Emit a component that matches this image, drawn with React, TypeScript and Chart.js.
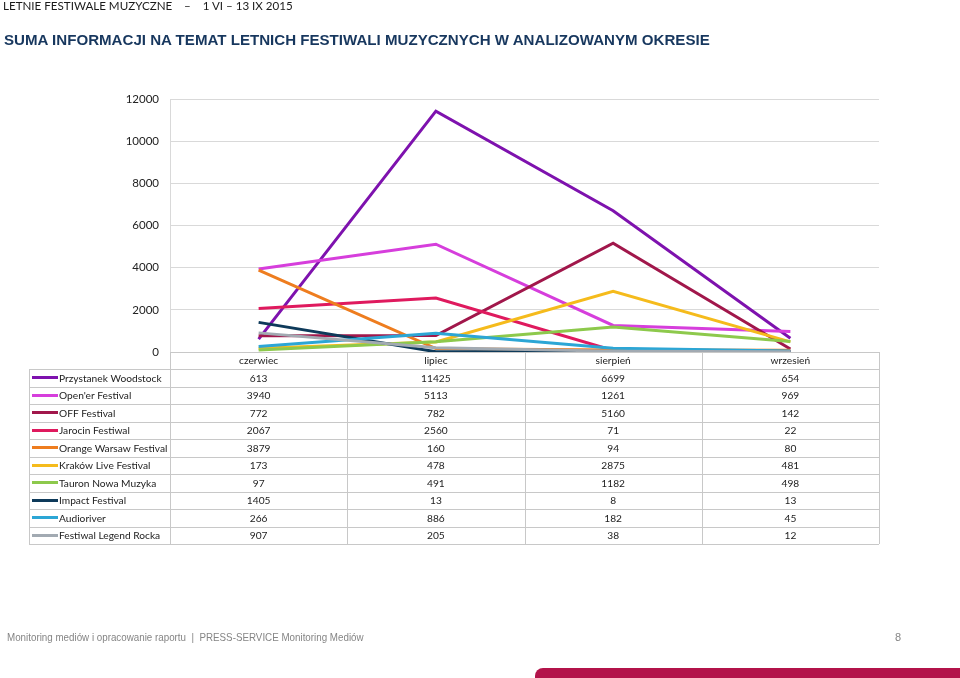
import React, { useEffect, useRef } from "react";
import { Chart, registerables } from "chart.js";

Chart.register(...registerables);

const categories = ["czerwiec", "lipiec", "sierpień", "wrzesień"];
const seriesNames = [
  "Przystanek Woodstock",
  "Open'er Festival",
  "OFF Festival",
  "Jarocin Festiwal",
  "Orange Warsaw Festival",
  "Kraków Live Festival",
  "Tauron Nowa Muzyka",
  "Impact Festival",
  "Audioriver",
  "Festiwal Legend Rocka",
];
const woodstock = [613, 11425, 6699, 654];
const opener = [3940, 5113, 1261, 969];
const offFestival = [772, 782, 5160, 142];
const jarocin = [2067, 2560, 71, 22];
const orangeWarsaw = [3879, 160, 94, 80];
const krakowLive = [173, 478, 2875, 481];
const tauron = [97, 491, 1182, 498];
const impact = [1405, 13, 8, 13];
const audioriver = [266, 886, 182, 45];
const legendRocka = [907, 205, 38, 12];
const seriesValues = [
  woodstock,
  opener,
  offFestival,
  jarocin,
  orangeWarsaw,
  krakowLive,
  tauron,
  impact,
  audioriver,
  legendRocka,
];
const seriesColors = [
  "#7E12AE",
  "#D63EDC",
  "#A1174B",
  "#DF1A5E",
  "#EE7D1F",
  "#F5BB1C",
  "#8DC94C",
  "#0E3A5A",
  "#2CA6D5",
  "#A2AAB2",
];
const yTicks = [0, 2000, 4000, 6000, 8000, 10000, 12000];

const TABLE_FONT = "10.2px Lato";
const GRID = "#C8C8C8";

const tablePlugin = {
  id: "dataTable",
  afterDraw(chart: any) {
    const ctx = chart.ctx as CanvasRenderingContext2D;
    const area = chart.chartArea;
    const n = categories.length;
    const colW = (area.right - area.left) / n;
    const headerTop = area.bottom;
    const headerH = 17;
    const rowsTop = headerTop + headerH;
    const rowH = 17.5;
    const tableLeft = 29;
    const bottom = rowsTop + rowH * seriesNames.length;
    const crisp = (v: number) => Math.round(v) + 0.5;

    ctx.save();
    ctx.strokeStyle = GRID;
    ctx.lineWidth = 1;
    ctx.beginPath();
    ctx.moveTo(area.left, crisp(headerTop));
    ctx.lineTo(area.right, crisp(headerTop));
    for (let r = 0; r <= seriesNames.length; r++) {
      const y = crisp(rowsTop + r * rowH);
      ctx.moveTo(tableLeft, y);
      ctx.lineTo(area.right, y);
    }
    for (let c = 0; c <= n; c++) {
      const x = crisp(area.left + c * colW);
      ctx.moveTo(x, headerTop);
      ctx.lineTo(x, bottom);
    }
    ctx.moveTo(crisp(tableLeft), rowsTop);
    ctx.lineTo(crisp(tableLeft), bottom);
    ctx.stroke();

    ctx.font = TABLE_FONT;
    ctx.fillStyle = "#222";
    ctx.textBaseline = "middle";
    ctx.textAlign = "center";
    const xs = chart.scales.x;
    categories.forEach((c, i) => {
      ctx.fillText(c, xs.getPixelForValue(i), headerTop + headerH / 2 + 0.5);
    });
    seriesNames.forEach((name, r) => {
      const cy = rowsTop + r * rowH + rowH / 2 + 0.5;
      ctx.strokeStyle = seriesColors[r];
      ctx.lineWidth = 3;
      ctx.beginPath();
      ctx.moveTo(32, Math.round(cy) - 0.5);
      ctx.lineTo(58, Math.round(cy) - 0.5);
      ctx.stroke();
      ctx.textAlign = "left";
      ctx.fillStyle = "#222";
      ctx.fillText(name, 59, cy);
      ctx.textAlign = "center";
      seriesValues[r].forEach((v, i) => {
        ctx.fillText(String(v), xs.getPixelForValue(i), cy);
      });
    });
    ctx.restore();
  },
};

export default function App() {
  const ref = useRef<HTMLCanvasElement>(null);
  useEffect(() => {
    if (!ref.current) return;
    const n = seriesNames.length;
    const chart = new Chart(ref.current, {
      type: "line",
      data: {
        labels: categories,
        datasets: seriesNames.map((name, i) => ({
          label: name,
          data: seriesValues[i],
          borderColor: seriesColors[i],
          backgroundColor: seriesColors[i],
          borderWidth: 3,
          pointRadius: 0,
          tension: 0,
          order: n - i,
        })),
      },
      options: {
        responsive: false,
        animation: false,
        events: [],
        layout: { padding: { left: 0, top: 99, right: 81, bottom: 326 } },
        plugins: { legend: { display: false }, tooltip: { enabled: false } },
        scales: {
          x: {
            type: "category",
            offset: true,
            display: false,
          },
          y: {
            min: 0,
            max: 12000,
            afterFit: (s: any) => {
              s.width = 170;
            },
            afterBuildTicks: (s: any) => {
              s.ticks = yTicks.map((v) => ({ value: v }));
            },
            ticks: {
              padding: 11,
              color: "#222",
              font: { family: "Lato", size: 11.5 },
              callback: (v: any) => String(v),
            },
            grid: { color: "#D9D9D9", drawTicks: false, lineWidth: 1 },
            border: { display: true, color: "#D9D9D9" },
          },
        },
      },
      plugins: [tablePlugin],
    });
    return () => chart.destroy();
  }, []);

  return (
    <div
      style={{
        position: "absolute",
        left: 0,
        top: 0,
        width: 960,
        height: 678,
        background: "#fff",
        overflow: "hidden",
      }}
    >
      <canvas
        ref={ref}
        width={960}
        height={678}
        style={{ position: "absolute", left: 0, top: 0 }}
      />
      <div
        style={{
          position: "absolute",
          left: 3,
          top: -1,
          font: "11.6px Lato",
          color: "#1a1a1a",
          whiteSpace: "pre",
        }}
      >
        {"LETNIE FESTIWALE MUZYCZNE    –    1 VI – 13 IX 2015"}
      </div>
      <div
        style={{
          position: "absolute",
          left: 4,
          top: 31,
          font: "bold 15.1px 'Liberation Sans'",
          color: "#17375E",
          whiteSpace: "pre",
        }}
      >
        SUMA INFORMACJI NA TEMAT LETNICH FESTIWALI MUZYCZNYCH W ANALIZOWANYM OKRESIE
      </div>
      <div
        style={{
          position: "absolute",
          left: 7,
          top: 631,
          font: "11px 'Liberation Sans'",
          color: "#858585",
          whiteSpace: "pre",
          transform: "scaleX(0.89)",
          transformOrigin: "left top",
        }}
      >
        {"Monitoring mediów i opracowanie raportu  |  PRESS-SERVICE Monitoring Mediów"}
      </div>
      <div
        style={{
          position: "absolute",
          left: 895,
          top: 631,
          font: "11px 'Liberation Sans'",
          color: "#858585",
        }}
      >
        8
      </div>
      <div
        style={{
          position: "absolute",
          left: 535,
          top: 668,
          width: 425,
          height: 10,
          background: "#B3134A",
          borderTopLeftRadius: 8,
        }}
      />
    </div>
  );
}
